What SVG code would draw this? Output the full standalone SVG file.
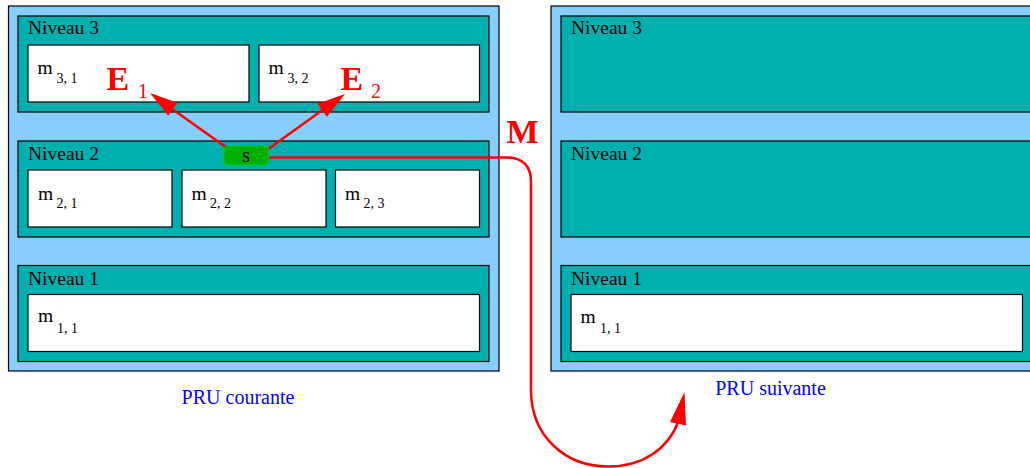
<svg xmlns="http://www.w3.org/2000/svg" width="1030" height="468" viewBox="0 0 1030 468">
<style>
.panel{fill:#87CEFF;stroke:#000;stroke-width:1.2}
.niv{fill:#00B0B0;stroke:#000;stroke-width:1.2}
.mod{fill:#fff;stroke:#000;stroke-width:1.2}
.t{font-family:"Liberation Serif",serif;font-size:19.5px;fill:#000}
.sub{font-family:"Liberation Serif",serif;font-size:14px;fill:#000}
.cap{font-family:"Liberation Serif",serif;font-size:20px;fill:#0000FF;text-anchor:middle}
.big{font-family:"Liberation Serif",serif;font-size:34px;font-weight:bold;fill:#FF0000}
.bigsub{font-family:"Liberation Serif",serif;font-size:20px;fill:#FF0000}
.conn{fill:none;stroke:#FF0000;stroke-width:2.5}
.head{fill:#FF0000;stroke:none}
</style>
<g id="pru-courante">
<rect class="panel" x="8.5" y="6" width="490.5" height="365"/>
<g id="niveau3-l">
<rect class="niv" x="18" y="16" width="471" height="96"/>
<text class="t" x="28" y="34">Niveau 3</text>
</g>
<g id="m31"><rect class="mod" x="28" y="45" width="221" height="57"/><text class="t" x="37.5" y="74">m</text><text class="sub" x="56.5" y="82.5">3, 1</text></g>
<g id="m32"><rect class="mod" x="259" y="45" width="220.5" height="57"/><text class="t" x="268.5" y="74">m</text><text class="sub" x="287.5" y="82.5">3, 2</text></g>
<g id="niveau2-l">
<rect class="niv" x="18" y="141" width="471" height="96"/>
<text class="t" x="28" y="160">Niveau 2</text>
</g>
<g id="m21"><rect class="mod" x="28" y="170" width="144" height="57"/><text class="t" x="38" y="200">m</text><text class="sub" x="56.5" y="207.5">2, 1</text></g>
<g id="m22"><rect class="mod" x="182" y="170" width="144" height="57"/><text class="t" x="191.5" y="200">m</text><text class="sub" x="210" y="207.5">2, 2</text></g>
<g id="m23"><rect class="mod" x="335.5" y="170" width="144" height="57"/><text class="t" x="345" y="200">m</text><text class="sub" x="363.5" y="207.5">2, 3</text></g>
<g id="niveau1-l">
<rect class="niv" x="18" y="265.5" width="471" height="96"/>
<text class="t" x="28" y="284.5">Niveau 1</text>
</g>
<g id="m11-l"><rect class="mod" x="28" y="294.5" width="451.5" height="57"/><text class="t" x="38" y="322">m</text><text class="sub" x="57" y="332.5">1, 1</text></g>
<text class="cap" x="238" y="403.5">PRU courante</text>
</g>
<g id="pru-suivante">
<rect class="panel" x="551" y="6" width="490" height="365"/>
<g id="niveau3-r">
<rect class="niv" x="561" y="16" width="480" height="96"/>
<text class="t" x="571" y="34">Niveau 3</text>
</g>
<g id="niveau2-r">
<rect class="niv" x="561" y="141" width="480" height="96"/>
<text class="t" x="571" y="160">Niveau 2</text>
</g>
<g id="niveau1-r">
<rect class="niv" x="561" y="265.5" width="480" height="96"/>
<text class="t" x="571" y="284.5">Niveau 1</text>
</g>
<g id="m11-r"><rect class="mod" x="571" y="294.5" width="451.5" height="57"/><text class="t" x="580.5" y="323">m</text><text class="sub" x="600" y="333">1, 1</text></g>
<text class="cap" x="770.5" y="395">PRU suivante</text>
</g>
<g id="connectors">
<line class="conn" x1="237" y1="155" x2="168" y2="106"/>
<polygon class="head" points="150,93 177.4,102.7 168.2,115.7"/>
<line class="conn" x1="260" y1="155" x2="328" y2="106"/>
<polygon class="head" points="345,94 317.5,103.8 326.9,116.8"/>
<path class="conn" d="M268,157.5 H506 Q531,157.5 531,182 V390 C531,436 565,466.5 608,466.5 C642,466.5 668,450 679,420"/>
<polygon class="head" points="684.5,392 670,422 686,425.5"/>
</g>
<g id="s">
<rect x="224" y="146" width="44.5" height="19" rx="4" fill="#00B000" stroke="#00D000" stroke-width="1.2"/>
<text x="246" y="162" font-family="'Liberation Serif',serif" font-size="21px" text-anchor="middle" fill="#000">s</text>
</g>
<g id="labels">
<text class="big" x="106.5" y="89.5">E</text><text class="bigsub" x="138" y="97.5">1</text>
<text class="big" x="340.5" y="89.5">E</text><text class="bigsub" x="371" y="97.5">2</text>
<text class="big" x="506.5" y="142.5">M</text>
</g>
</svg>
